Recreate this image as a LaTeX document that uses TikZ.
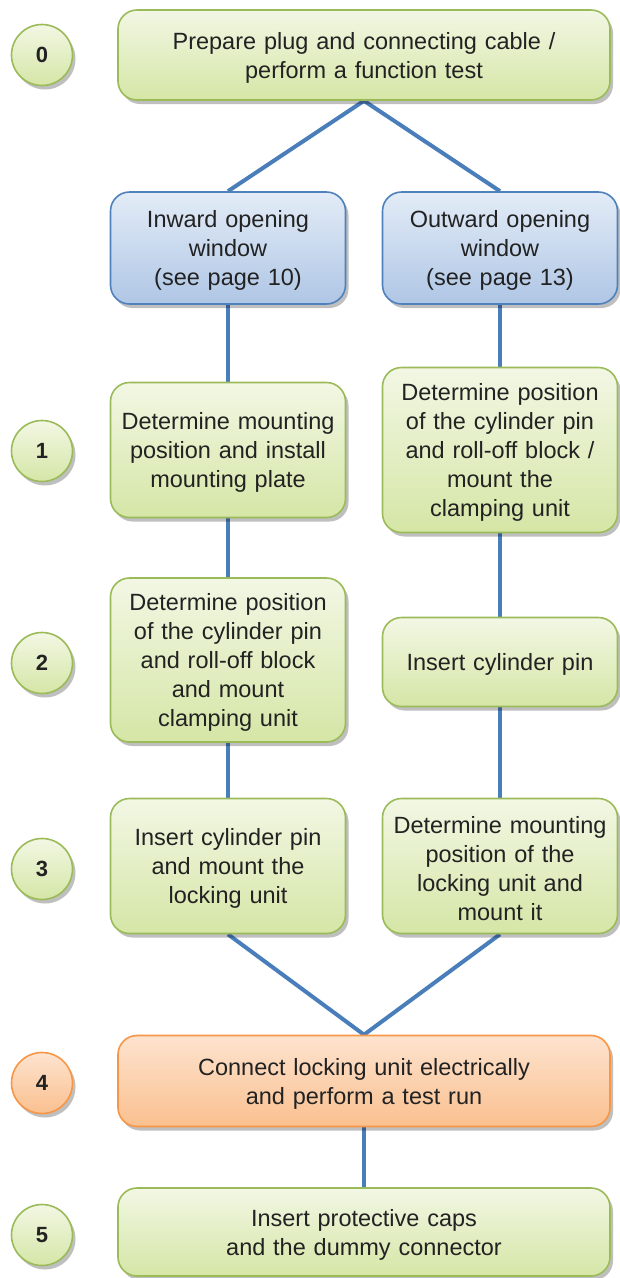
\documentclass[tikz,border=0pt]{standalone}
\usepackage{fontspec}
\setmainfont{Liberation Sans}
\usetikzlibrary{shadows,backgrounds}
\definecolor{grnD}{HTML}{9BBB59}
\definecolor{grnT}{HTML}{F2F7E4}
\definecolor{grnB}{HTML}{D5E6A6}
\definecolor{bluD}{HTML}{4F81BD}
\definecolor{bluT}{HTML}{E3ECF7}
\definecolor{bluB}{HTML}{AFC6E5}
\definecolor{orD}{HTML}{F79646}
\definecolor{orT}{HTML}{FDE3CF}
\definecolor{orB}{HTML}{FAC08F}
\definecolor{lnC}{HTML}{4A7EBB}
\definecolor{txt}{HTML}{222222}
\tikzset{
  shad/.style={drop shadow={shadow xshift=3pt,shadow yshift=-4pt,opacity=0.25,fill=black}},
  box/.style={rectangle, rounded corners=19pt, line width=1.6pt, align=center, inner sep=0pt,
    text=txt, font=\fontsize{23.5}{29}\selectfont, shad,
    execute at begin node={\rule{0pt}{22pt}}},
  gbox/.style={box, draw=grnD, top color=grnT, bottom color=grnB},
  bbox/.style={box, draw=bluD, top color=bluT, bottom color=bluB},
  obox/.style={box, draw=orD, top color=orT, bottom color=orB},
  wide/.style={minimum width=492pt, text width=480pt},
  col/.style={minimum width=235pt, text width=232pt},
  num/.style={circle, minimum size=61pt, inner sep=0pt, line width=1.6pt, text=txt,
    font=\fontsize{22}{24}\selectfont\bfseries, shad},
  gnum/.style={num, draw=grnD, top color=grnT, bottom color=grnB},
  onum/.style={num, draw=orD, top color=orT, bottom color=orB},
  conn/.style={draw=lnC, line width=4pt}
}
\begin{document}
\begin{tikzpicture}[x=1pt,y=-1pt]
\useasboundingbox (0,0) rectangle (620,1278);
\node[gbox, wide, minimum height=90pt] (b0) at (364,55) {Prepare plug and connecting cable /\\perform a function test};
\node[gnum] (n0) at (42,55) {0};
\node[bbox, col, minimum height=112pt] (bl) at (228,248) {Inward opening\\window\\(see page 10)};
\node[bbox, col, minimum height=112pt] (br) at (500,248) {Outward opening\\window\\(see page 13)};
\node[gbox, col, minimum height=135pt] (l1) at (228,450) {Determine mounting\\position and install\\mounting plate};
\node[gbox, col, minimum height=165pt] (r1) at (500,450) {Determine position\\of the cylinder pin\\and roll-off block /\\mount the\\clamping unit};
\node[gnum] (n1) at (42,451) {1};
\node[gbox, col, minimum height=164pt] (l2) at (228,660) {Determine position\\of the cylinder pin\\and roll-off block\\and mount\\clamping unit};
\node[gbox, col, minimum height=89pt] (r2) at (500,662) {Insert cylinder pin};
\node[gnum] (n2) at (42,663) {2};
\node[gbox, col, minimum height=135pt] (l3) at (228,866) {Insert cylinder pin\\and mount the\\locking unit};
\node[gbox, col, minimum height=135pt] (r3) at (500,866) {Determine mounting\\position of the\\locking unit and\\mount it};
\node[gnum] (n3) at (42,869) {3};
\node[obox, wide, minimum height=91pt] (b4) at (364,1081) {Connect locking unit electrically\\and perform a test run};
\node[onum] (n4) at (42,1083) {4};
\node[gbox, wide, minimum height=88pt] (b5) at (364,1232) {Insert protective caps\\and the dummy connector};
\node[gnum] (n5) at (42,1235) {5};
\begin{scope}[on background layer]
\draw[conn] (b0.south) -- (bl.north);
\draw[conn] (b0.south) -- (br.north);
\draw[conn] (bl.south) -- (l1.north);
\draw[conn] (br.south) -- (r1.north);
\draw[conn] (l1.south) -- (l2.north);
\draw[conn] (r1.south) -- (r2.north);
\draw[conn] (l2.south) -- (l3.north);
\draw[conn] (r2.south) -- (r3.north);
\draw[conn] (l3.south) -- (b4.north);
\draw[conn] (r3.south) -- (b4.north);
\draw[conn] (b4.south) -- (b5.north);
\end{scope}
\end{tikzpicture}
\end{document}
